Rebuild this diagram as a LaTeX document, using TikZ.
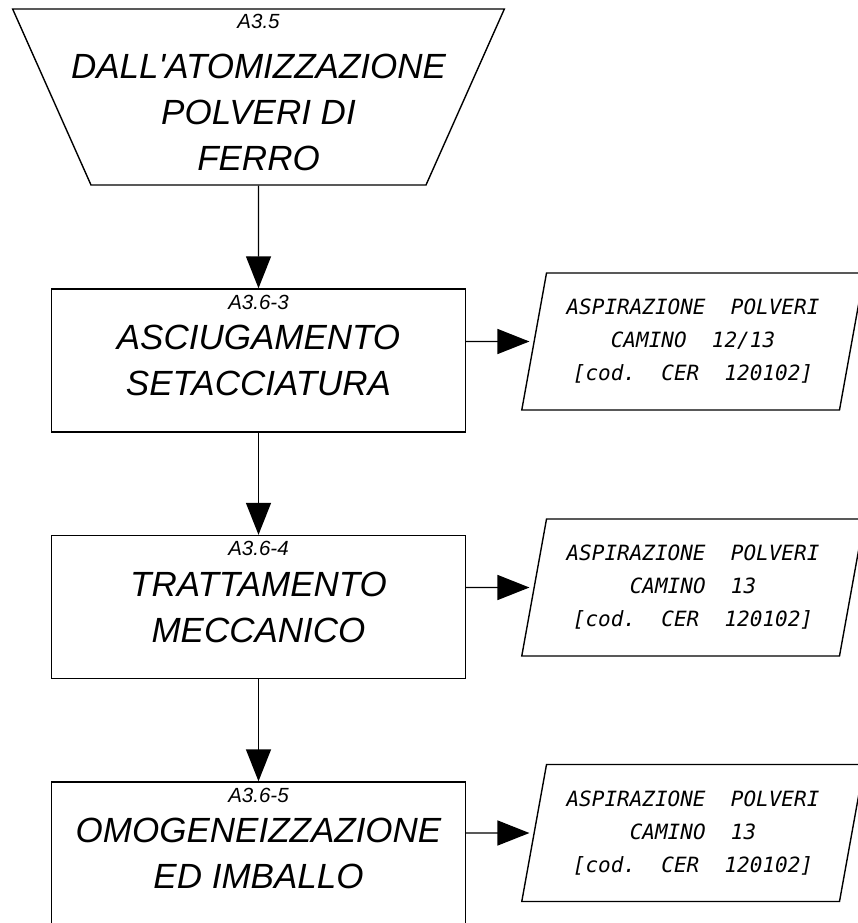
\documentclass[tikz,border=0pt]{standalone}
\usepackage{fontspec}
\setmainfont{Liberation Sans}
\newfontfamily\cadfont{DejaVu Sans Mono}
\usetikzlibrary{positioning,shapes.geometric,arrows.meta}

\begin{document}
\begin{tikzpicture}[x=1pt,y=-1pt,line width=1.4pt,
    >={Triangle[length=32pt,width=25pt]},
    source/.style  = {draw, trapezium, trapezium left angle=66, trapezium right angle=66,
                      shape border rotate=180,
                      text width=335pt, text height=176pt, text depth=0pt, inner sep=0pt},
    block/.style   = {draw, rectangle, minimum width=414pt, minimum height=143pt,
                      font=\itshape\fontsize{35}{46}\selectfont, align=center},
    bigtext/.style = {font=\itshape\fontsize{35}{46}\selectfont, align=center},
    tag/.style     = {font=\itshape\fontsize{20.5}{24}\selectfont, inner sep=0pt},
    exhaust/.style = {draw, trapezium, trapezium left angle=76, trapezium right angle=104,
                      trapezium stretches=true, minimum width=344pt, minimum height=137pt,
                      inner sep=1pt, font=\cadfont\itshape\fontsize{21}{33}\selectfont, align=center}]

  \useasboundingbox (0,0) rectangle (858,923);
  \clip (0,0) rectangle (858,923);

  % sorgente
  \draw (258.5,97) node[source] (src) {};
  \draw (258.5,112) node[bigtext] (srctxt) {DALL\textquotesingle ATOMIZZAZIONE\\POLVERI DI\\FERRO};
  \node[tag, below=5pt of src.north] (srctag) {A3.5};

  % fasi
  \draw (258.5,360.5) node[block] (asc) {ASCIUGAMENTO\\SETACCIATURA};
  \node[tag, below=6pt of asc.north] (asctag) {A3.6-3};
  \draw (258.5,607) node[block] (tra) {TRATTAMENTO\\MECCANICO};
  \node[tag, below=6pt of tra.north] (tratag) {A3.6-4};
  \draw (258.5,853.5) node[block] (omo) {OMOGENEIZZAZIONE\\ED IMBALLO};
  \node[tag, below=6pt of omo.north] (omotag) {A3.6-5};

  % emissioni
  \draw (693,341.5) node[exhaust] (asp1) {ASPIRAZIONE~~POLVERI\\CAMINO~~12/13\\{[}cod.~~CER~~120102]};
  \draw (693,587.5) node[exhaust] (asp2) {ASPIRAZIONE~~POLVERI\\CAMINO~~13\\{[}cod.~~CER~~120102]};
  \draw (693,833) node[exhaust] (asp3) {ASPIRAZIONE~~POLVERI\\CAMINO~~13\\{[}cod.~~CER~~120102]};

  \draw [->] (src) -- (asc);
  \draw [->] (asc) -- (tra);
  \draw [->] (tra) -- (omo);
  \draw [->, shorten >=4pt] (asc.east |- asp1) -- (asp1);
  \draw [->, shorten >=4pt] (tra.east |- asp2) -- (asp2);
  \draw [->, shorten >=4pt] (omo.east |- asp3) -- (asp3);

\end{tikzpicture}
\end{document}
